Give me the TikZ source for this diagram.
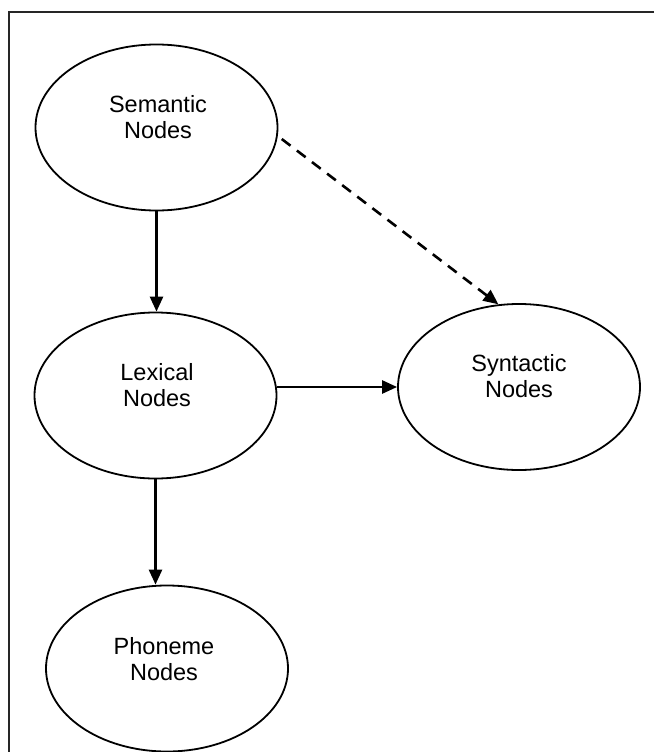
\documentclass[tikz,border=0pt]{standalone}
\usepackage{fontspec}
\setmainfont{Liberation Sans}
\usetikzlibrary{shapes.geometric,arrows.meta}
\begin{document}
\begin{tikzpicture}[x=1pt,y=-1pt,
  bubble/.style={ellipse,draw,line width=1.8pt,minimum width=242pt,minimum height=166pt,inner sep=0pt},
  lbl/.style={align=center,font=\fontsize{23.5}{25.5}\selectfont,inner sep=0pt},
  arr/.style={line width=2.6pt,-{Triangle[length=15pt,width=13pt]}},
  dasharr/.style={arr,dash pattern=on 11pt off 8pt},
  frameline/.style={line width=1.2pt,draw=black!85}]
\useasboundingbox (0,0) rectangle (654,752);
\coordinate (ftr) at (654,12);
\coordinate (ftl) at (9,12);
\coordinate (fbl) at (9,752);
\draw[frameline] (ftr) -- (ftl) -- (fbl);

\node[bubble] (sem) at (156.5,127.5) {};
\node[bubble] (lex) at (155.5,395.5) {};
\node[bubble] (syn) at (519,387) {};
\node[bubble] (pho) at (167,668.5) {};

\node[lbl] (semt) at (158,117) {Semantic\\Nodes};
\node[lbl] (lext) at (157,385) {Lexical\\Nodes};
\node[lbl] (synt) at (519,376) {Syntactic\\Nodes};
\node[lbl] (phot) at (164,659) {Phoneme\\Nodes};

\draw[arr] (sem.south) -- (sem.south |- lex.north);
\draw[arr] (lex.south) -- (lex.south |- pho.north);
\draw[arr] (lex.east |- syn.west) -- (syn.west);
\draw[dasharr,shorten <=5pt] (sem.-4) -- (syn.104.5);
\end{tikzpicture}
\end{document}
